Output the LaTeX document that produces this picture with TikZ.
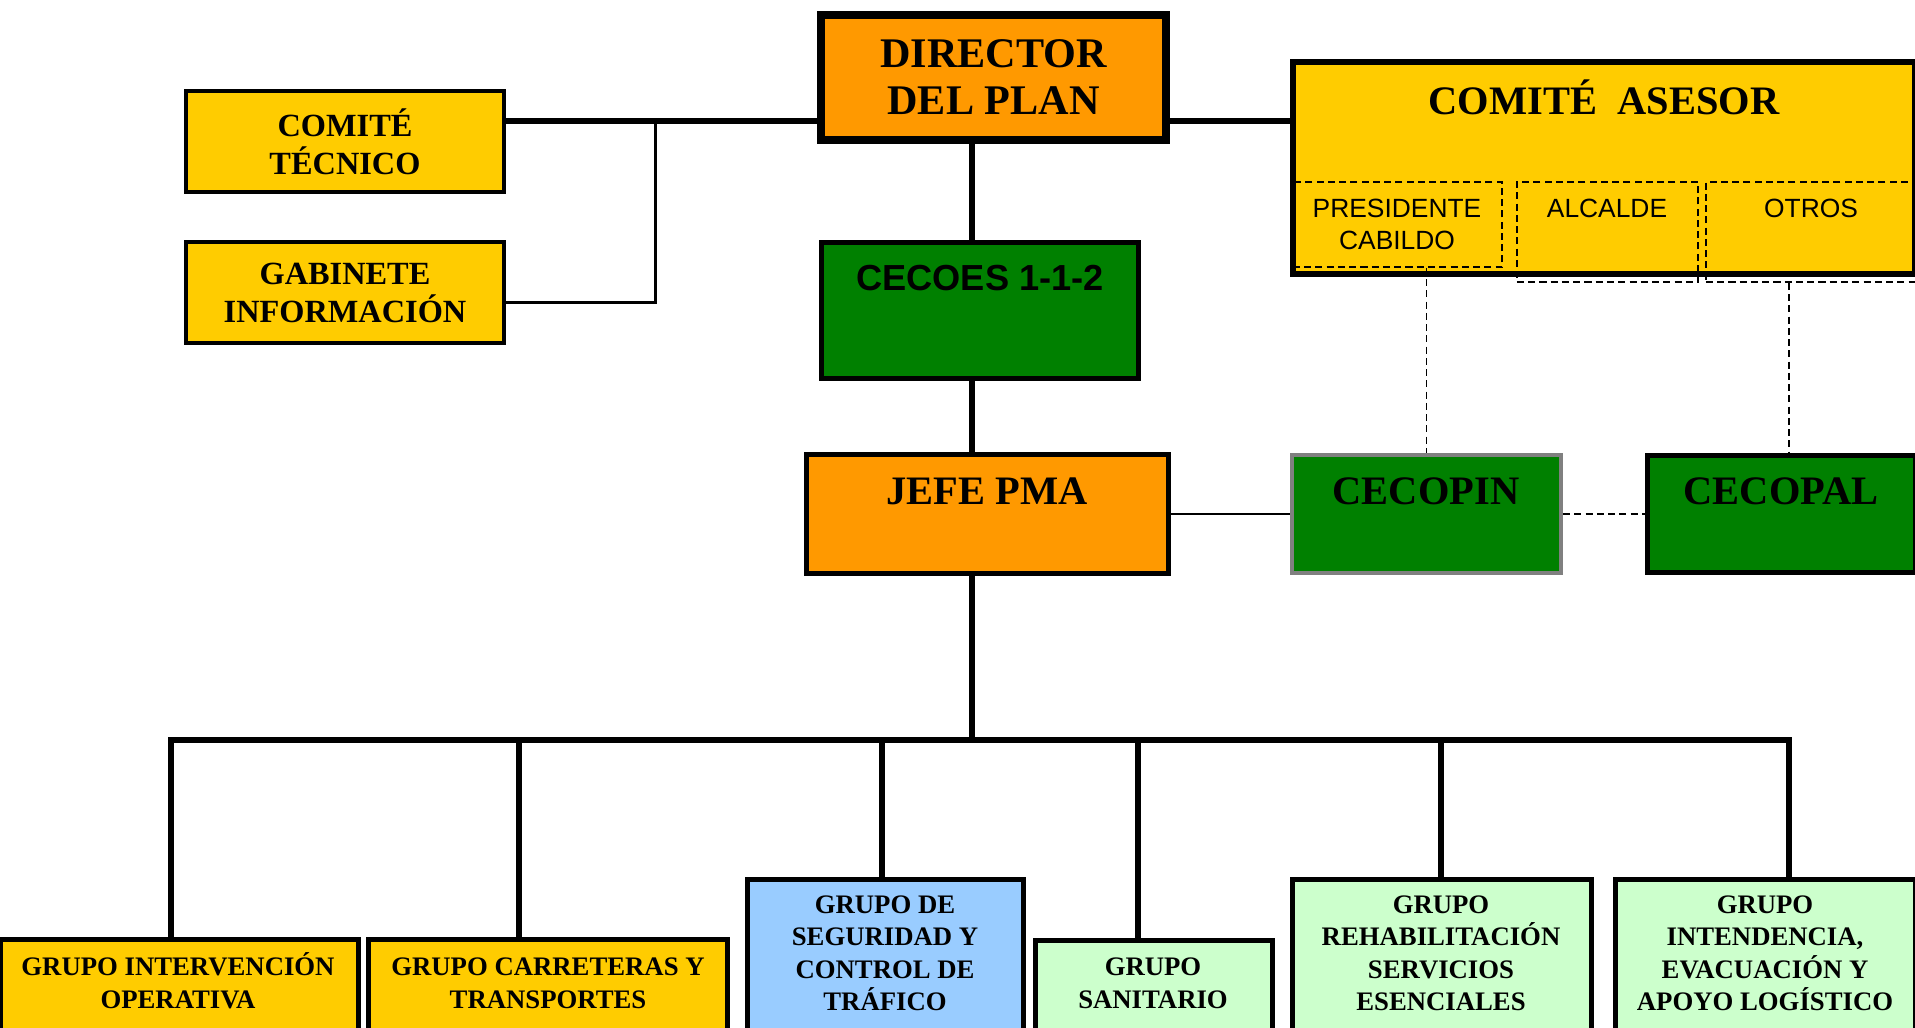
\documentclass[tikz,border=0pt]{standalone}
\usepackage{fontspec}
\setmainfont{Liberation Serif}
\newfontfamily\arialfont{Liberation Sans}
\definecolor{dirorange}{HTML}{FF9900}
\definecolor{comyellow}{HTML}{FFCC00}
\definecolor{centergreen}{HTML}{008000}
\definecolor{segblue}{HTML}{99CCFF}
\definecolor{grupgreen}{HTML}{CCFFCC}
\definecolor{pingrey}{HTML}{808080}
\begin{document}
\begin{tikzpicture}[x=0.01cm, y=-0.01cm,
  box/.style={draw, rectangle, inner sep=0pt, line width=1.4pt},
  subbox/.style={draw, rectangle, inner sep=0pt, line width=0.5pt, dash pattern=on 2pt off 1.2pt},
  caption/.style={inner sep=0pt, anchor=base, align=center},
  bigtxt/.style={caption, font=\fontsize{11.5}{13}\selectfont\bfseries},
  grptxt/.style={caption, font=\fontsize{7.6}{9.1}\selectfont\bfseries},
  link/.style={line width=1.7pt},
  dashlink/.style={line width=0.5pt, dash pattern=on 2pt off 1.2pt}]
\clip (0,0) rectangle (1915,1028);
% top row
\node[box, fill=dirorange, line width=2.3pt, minimum width=3.45cm, minimum height=1.25cm, align=center, font=\fontsize{12}{13.4}\selectfont\bfseries] (director) at (993.5,77.5) {DIRECTOR\\DEL PLAN};
\node[box, fill=comyellow, line width=1.3pt, minimum width=3.18cm, minimum height=1.01cm, align=center, font=\fontsize{9.2}{10.8}\selectfont\bfseries] (comtec) at (345,141.5) {COMITÉ\\TÉCNICO};
\node[box, fill=comyellow, line width=1.3pt, minimum width=3.18cm, minimum height=1.01cm, align=center, font=\fontsize{9.2}{10.8}\selectfont\bfseries] (gabinete) at (345,292.5) {GABINETE\\INFORMACIÓN};
\node[box, fill=comyellow, line width=1.7pt, minimum width=6.22cm, minimum height=2.12cm] (asesor) at (1604,168) {};
\node[bigtxt] (t-asesor) at (1604,115) {COMITÉ\ \ ASESOR};
\node[subbox, minimum width=2.09cm, minimum height=0.85cm] (presid) at (1397.5,224.5) {};
\node[subbox, minimum width=1.81cm, minimum height=1.00cm] (alcalde) at (1607.5,232) {};
\node[subbox, minimum width=2.14cm, minimum height=1.00cm] (otros) at (1813,232) {};
\node[caption, font=\arialfont\fontsize{7.5}{9.1}\selectfont] (t-presid) at (1397,250) {PRESIDENTE\\CABILDO};
\node[caption, font=\arialfont\fontsize{7.5}{9.1}\selectfont] (t-alcalde) at (1607,218) {ALCALDE};
\node[caption, font=\arialfont\fontsize{7.5}{9.1}\selectfont] (t-otros) at (1811,218) {OTROS};
% centres
\node[box, fill=centergreen, minimum width=3.17cm, minimum height=1.36cm] (cecoes) at (980,310.5) {};
\node[caption, font=\arialfont\fontsize{10.3}{12}\selectfont\bfseries] (t-cecoes) at (980,291) {CECOES 1-1-2};
\node[box, fill=dirorange, minimum width=3.62cm, minimum height=1.19cm] (jefe) at (987.5,514) {};
\node[bigtxt] (t-jefe) at (987,505) {JEFE PMA};
\node[box, fill=centergreen, draw=pingrey, line width=1.15pt, minimum width=2.69cm, minimum height=1.18cm] (cecopin) at (1426.5,514) {};
\node[bigtxt] (t-cecopin) at (1426,505) {CECOPIN};
\node[box, fill=centergreen, minimum width=2.68cm, minimum height=1.17cm] (cecopal) at (1781.5,514) {};
\node[bigtxt] (t-cecopal) at (1781,505) {CECOPAL};
% grupos
\node[box, fill=comyellow, minimum width=3.58cm, minimum height=1.03cm] (g1) at (179.5,991) {};
\node[box, fill=comyellow, minimum width=3.59cm, minimum height=1.03cm] (g2) at (548,991) {};
\node[box, fill=segblue, minimum width=2.76cm, minimum height=1.63cm] (g3) at (885.5,961) {};
\node[box, fill=grupgreen, minimum width=2.37cm, minimum height=1.02cm] (g4) at (1154,991.5) {};
\node[box, fill=grupgreen, minimum width=2.99cm, minimum height=1.63cm] (g5) at (1442,961) {};
\node[box, fill=grupgreen, minimum width=3.00cm, minimum height=1.63cm] (g6) at (1765.5,961) {};
\node[grptxt] (t-g1) at (178,1008) {GRUPO INTERVENCIÓN\\OPERATIVA};
\node[grptxt] (t-g2) at (548,1008) {GRUPO CARRETERAS Y\\TRANSPORTES};
\node[grptxt] (t-g3) at (885,1010) {GRUPO DE\\SEGURIDAD Y\\CONTROL DE\\TRÁFICO};
\node[grptxt] (t-g4) at (1153,1008) {GRUPO\\SANITARIO};
\node[grptxt] (t-g5) at (1441,1010) {GRUPO\\REHABILITACIÓN\\SERVICIOS\\ESENCIALES};
\node[grptxt] (t-g6) at (1765,1010) {GRUPO\\INTENDENCIA,\\EVACUACIÓN Y\\APOYO LOGÍSTICO};
% lines
\coordinate (hub) at (655,121);
\coordinate (gabjoint) at (655,303);
\coordinate (bushub) at (972,740);
\coordinate (d1) at (171,740);
\coordinate (d2) at (519,740);
\coordinate (d3) at (882,740);
\coordinate (d4) at (1138,740);
\coordinate (d5) at (1441,740);
\coordinate (d6) at (1789,740);
\draw[link] (comtec.east |- hub) -- (director.west |- hub);
\draw[link] (director.east |- hub) -- (asesor.west |- hub);
\draw[line width=0.85pt] (hub) -- (gabjoint) -- (gabinete.east |- gabjoint);
\draw[link] (director.south -| bushub) -- (cecoes.north -| bushub);
\draw[link] (cecoes.south -| bushub) -- (jefe.north -| bushub);
\draw[link] (jefe.south -| bushub) -- (bushub);
\draw[link] (g1.north -| d1) -- (d1) -- (d6) -- (g6.north -| d6);
\draw[link] (d2) -- (g2.north -| d2);
\draw[link] (d3) -- (g3.north -| d3);
\draw[link] (d4) -- (g4.north -| d4);
\draw[link] (d5) -- (g5.north -| d5);
\draw[line width=0.4pt] (jefe.east) -- (cecopin.west);
\draw[dashlink] (cecopin.east) -- (cecopal.west);
\draw[dashlink] (presid.south -| cecopin.north) -- (cecopin.north);
\draw[dashlink] (otros.south -| d6) -- (cecopal.north -| d6);
\end{tikzpicture}
\end{document}
